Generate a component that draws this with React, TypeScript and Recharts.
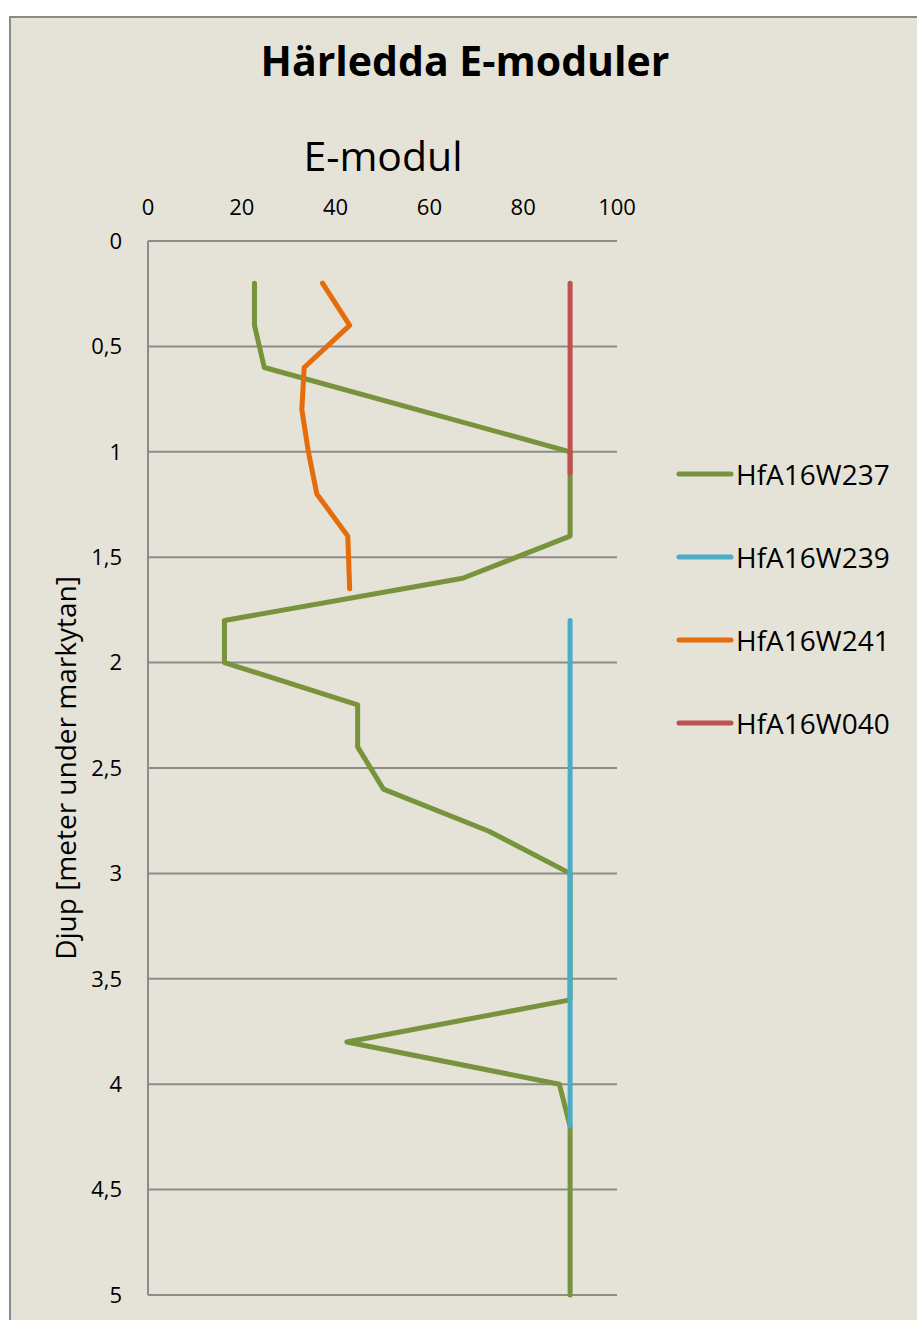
import React from "react";
import {
  ScatterChart,
  Scatter,
  XAxis,
  YAxis,
  CartesianGrid,
  Legend,
} from "recharts";

// E-modul values, with the depth (m) for each point
const depthW237 = [0.2, 0.4, 0.6, 1.0, 1.4, 1.6, 1.8, 2.0, 2.2, 2.4, 2.6, 2.8, 3.0, 3.6, 3.8, 4.0, 4.2, 5.0];
const emodW237 = [22.7, 22.7, 24.8, 90, 90, 67.1, 16.3, 16.3, 44.7, 44.7, 50.2, 72.7, 90, 90, 42.4, 87.7, 90, 90];

const depthW239 = [1.8, 3.0, 4.2];
const emodW239 = [90, 90, 90];

const depthW241 = [0.2, 0.4, 0.6, 0.8, 1.0, 1.2, 1.4, 1.65];
const emodW241 = [37.2, 43.0, 33.3, 32.8, 34.2, 36.0, 42.6, 43.0];

const depthW040 = [0.2, 0.6, 1.1];
const emodW040 = [90, 90, 90];

const xTicks = [0, 20, 40, 60, 80, 100];
const yTicks = [0, 0.5, 1, 1.5, 2, 2.5, 3, 3.5, 4, 4.5, 5];

const FONT = "'Open Sans', sans-serif";
const GRID = "#8c8c8c";

const toPoints = (depths: number[], values: number[]) =>
  depths.map((d, i) => ({ d, v: values[i] }));

const series = [
  { name: "HfA16W237", color: "#77933C", data: toPoints(depthW237, emodW237) },
  { name: "HfA16W239", color: "#4BACC6", data: toPoints(depthW239, emodW239) },
  { name: "HfA16W241", color: "#E46C0A", data: toPoints(depthW241, emodW241) },
  { name: "HfA16W040", color: "#C0504D", data: toPoints(depthW040, emodW040) },
];

const commaFmt = (v: number) => String(v).replace(".", ",");

const renderLegend = (props: any) => {
  const { payload = [] } = props;
  // keep the series order, not the alphabetical one
  const ordered = series.filter((s) =>
    payload.some((p: any) => p.value === s.name)
  );
  return (
    <div style={{ fontFamily: FONT }}>
      {ordered.map((s) => (
        <div
          key={s.name}
          style={{ display: "flex", alignItems: "center", height: 83 }}
        >
          <svg width={58} height={8}>
            <line
              x1={3}
              y1={4}
              x2={55}
              y2={4}
              stroke={s.color}
              strokeWidth={5}
              strokeLinecap="round"
            />
          </svg>
          <span style={{ fontSize: 28, color: "#000", marginLeft: 2 }}>
            {s.name}
          </span>
        </div>
      ))}
    </div>
  );
};

const App: React.FC = () => {
  return (
    <div
      style={{
        position: "absolute",
        left: 0,
        top: 0,
        width: 917,
        height: 1320,
        overflow: "hidden",
        background: "#fff",
      }}
    >
      <div
        style={{
          position: "absolute",
          left: 9,
          top: 16,
          width: 960,
          height: 1360,
          border: "2px solid #8a8a8a",
          background: "#E5E2D8",
        }}
      />
      <div
        style={{
          position: "absolute",
          left: 0,
          width: 930,
          top: 33,
          textAlign: "center",
          fontFamily: FONT,
          fontWeight: "bold",
          fontSize: 41,
          lineHeight: "54px",
        }}
      >
        Härledda E-moduler
      </div>
      <div
        style={{
          position: "absolute",
          left: 183,
          width: 400,
          top: 128,
          textAlign: "center",
          fontFamily: FONT,
          fontSize: 41,
          lineHeight: "54px",
        }}
      >
        E-modul
      </div>
      <div
        style={{
          position: "absolute",
          left: 65,
          top: 768,
          width: 500,
          marginLeft: -250,
          marginTop: -20,
          height: 40,
          lineHeight: "40px",
          textAlign: "center",
          fontFamily: FONT,
          fontSize: 28,
          transform: "rotate(-90deg)",
          transformOrigin: "center center",
        }}
      >
        Djup [meter under markytan]
      </div>
      <div style={{ position: "absolute", left: 0, top: 0 }}>
        <ScatterChart
          width={917}
          height={1320}
          margin={{ top: 201, right: 59, bottom: 25, left: 88 }}
        >
          <CartesianGrid vertical={false} stroke={GRID} strokeWidth={2} />
          <XAxis
            type="number"
            dataKey="v"
            orientation="top"
            domain={[0, 100]}
            ticks={xTicks}
            height={40}
            axisLine={false}
            tickLine={false}
            tickSize={6}
            tickMargin={20}
            tick={{ fill: "#000", fontSize: 22, fontFamily: FONT }}
          />
          <YAxis
            type="number"
            dataKey="d"
            domain={[0, 5]}
            ticks={yTicks}
            reversed
            width={60}
            axisLine={{ stroke: GRID, strokeWidth: 2 }}
            tickLine={false}
            tickSize={6}
            tickMargin={20}
            tickFormatter={commaFmt}
            tick={{ fill: "#000", fontSize: 22, fontFamily: FONT }}
          />
          <Legend
            layout="vertical"
            align="right"
            verticalAlign="middle"
            content={renderLegend}
            wrapperStyle={{ left: 676, top: 432, width: 241 }}
          />
          {series.map((s) => (
            <Scatter
              key={s.name}
              name={s.name}
              data={s.data}
              fill={s.color}
              legendType="line"
              line={{
                stroke: s.color,
                strokeWidth: 5,
                strokeLinecap: "round",
                strokeLinejoin: "round",
              }}
              lineJointType="linear"
              shape={() => <g />}
              isAnimationActive={false}
            />
          ))}
        </ScatterChart>
      </div>
    </div>
  );
};

export default App;
